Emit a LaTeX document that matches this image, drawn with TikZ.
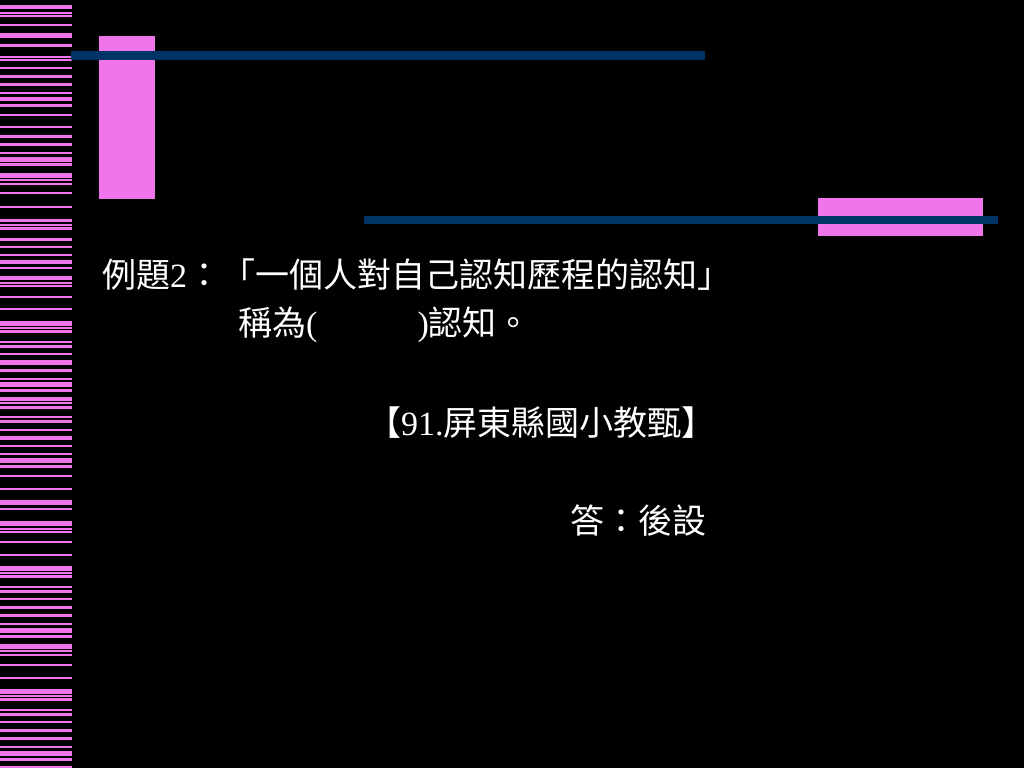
\documentclass[tikz,border=0pt]{standalone}
\usepackage{fontspec}
\setmainfont{Liberation Serif}
\newfontfamily\cjk{Noto Sans CJK TC}
\definecolor{pinkbar}{RGB}{240,117,235}
\definecolor{navyline}{RGB}{0,51,102}
\begin{document}
\begin{tikzpicture}[x=1pt,y=-1pt,
  txt/.style={anchor=west,inner sep=0pt,text=white,font=\fontsize{34}{37}\selectfont}]
\useasboundingbox (0,0) rectangle (1024,768);
\fill[black] (0,0) rectangle (1024,768);
% barcode stripes on the left
\foreach \y/\t in {7/4.5,12.7/2,15.7/2,25.3/2,35.3/4.5,45.7/3,56.7/2,60.3/2,68.3/2,76.7/3.5,84.7/3,92.7/2,99/4.5,105/3,114.7/2,127.3/2,136.7/3,144.7/3,152.7/2,159.3/4.5,164.7/3,175.7/4.5,180.3/2,184/2,193.3/2,206.7/2,220.7/3,225/2,228.7/3,239.3/3.5,247.3/2,255.3/2,262/4.5,267.7/2,278/4.5,283/2,286.3/2,296.7/2,309.3/2,323.3/4.5,328/2,331.7/3,342/2,346/3,354/2,362.7/4.5,370.7/3,378.7/2,384.7/4.5,390.7/3,399/4.5,403.3/2,407/3,417.3/2,421.7/3,429.7/2,438/3.5,446/2,454/2,460.3/4.5,466/3,476.3/2,489/2,502.7/4.5,508.5/2,523.7/4.5,528.7/2,532/2,541.7/2,554.7/2,568.7/4.5,573/2,576.7/3,587.3/2,591/3,599.3/2,607.3/3.5,615.3/3,623.7/2,630.3/4.5,636/3,646.7/4.5,651.3/2,655/2,664.7/2,677.7/2,691.7/4.5,696/2,699.7/3,710.3/2,714.3/3,722.3/2,730.7/3.5,738.3/3,746.7/2,753.3/4.5,759/3,766.5/2}
  {\fill[pinkbar] (0,\y-\t/2) rectangle (72,\y+\t/2);}
% decorative blocks and lines
\fill[pinkbar] (99,36) rectangle (155,199);
\fill[navyline] (71,51.5) rectangle (705,59.5);
\fill[pinkbar] (818,198) rectangle (983,236);
\fill[navyline] (364,215.5) rectangle (998,223.5);
% text
\node[txt] (l1) at (102,275) {{\cjk 例題}2{\cjk ：「一個人對自己認知歷程的認知」}};
\node[txt] (l2) at (238,325) {{\cjk 稱為}(\hspace{100pt})\cjk 認知。};
\node[txt] (l3) at (367,423) {{\cjk 【}91.{\cjk 屏東縣國小教甄】}};
\node[txt] (l4) at (570,521) {\cjk 答：後設};
\end{tikzpicture}
\end{document}
